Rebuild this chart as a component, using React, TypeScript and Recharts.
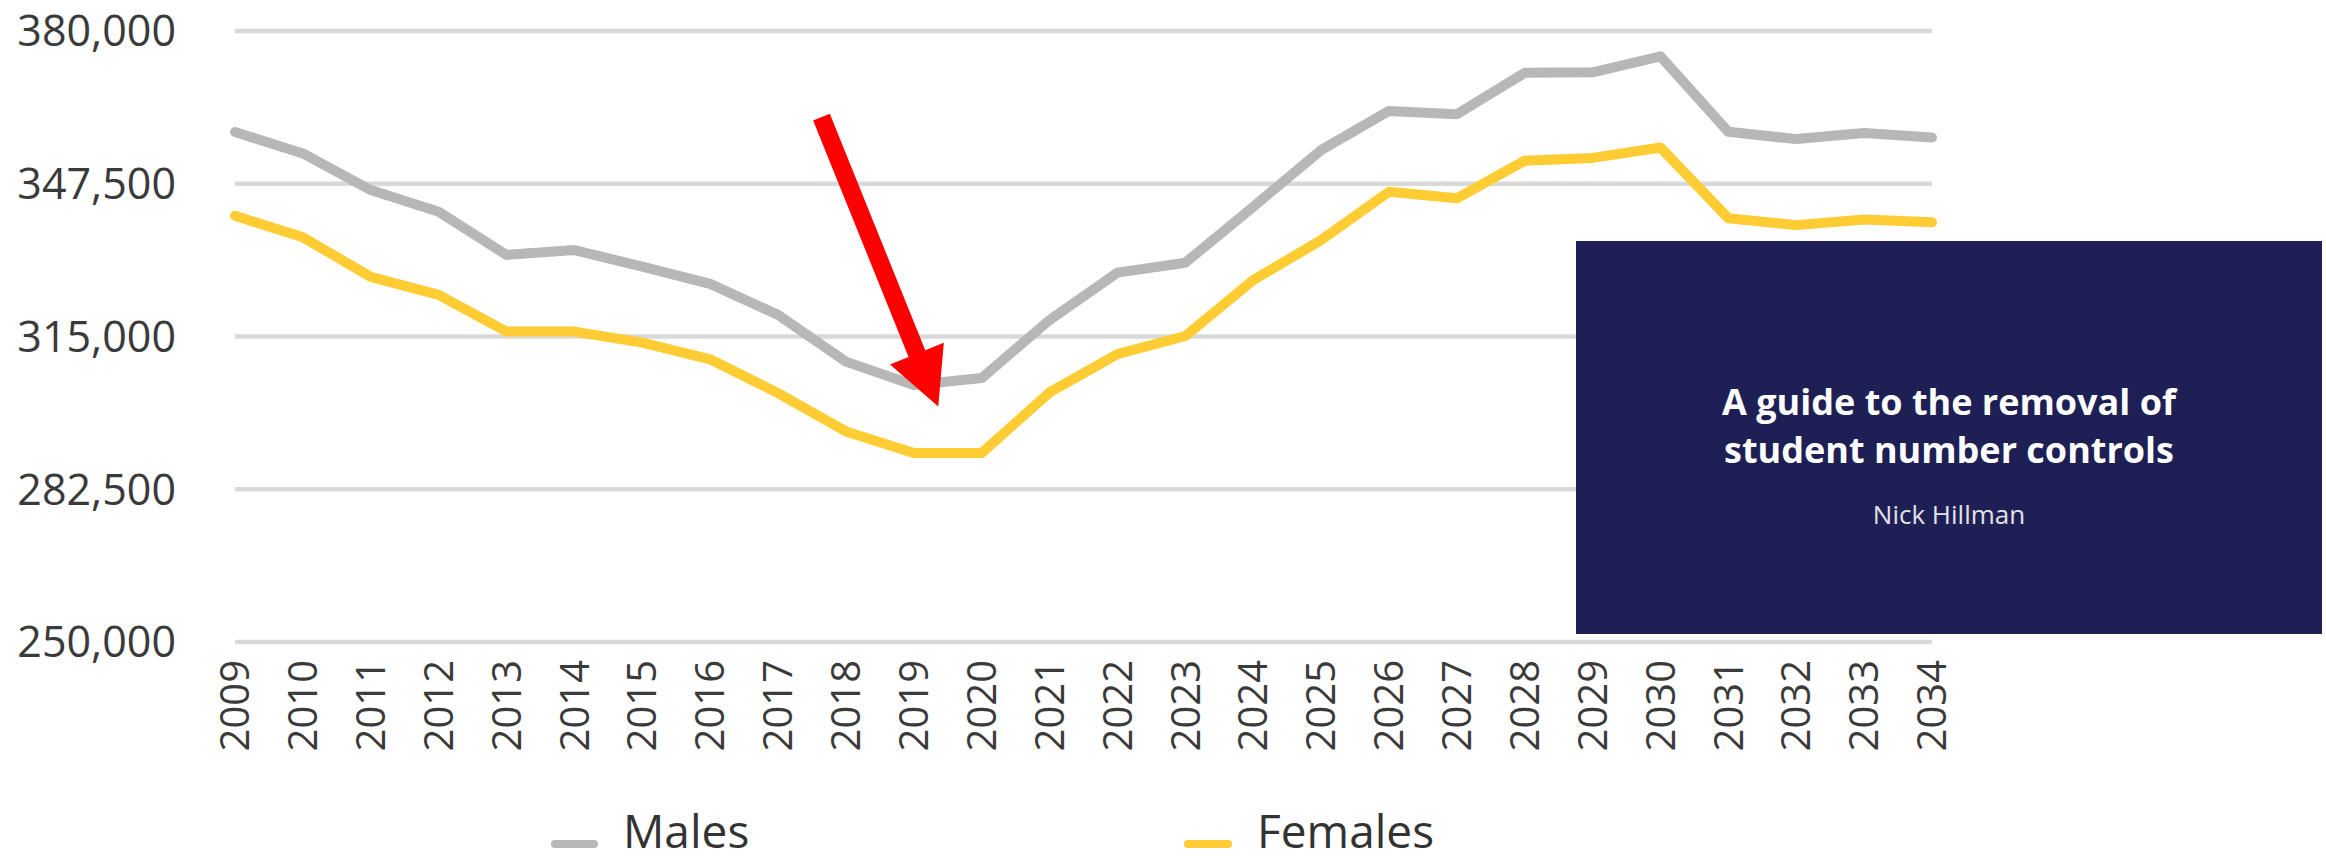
import React from 'react';
import { LineChart, Line, XAxis, YAxis, CartesianGrid, Legend, ReferenceLine } from 'recharts';

const years = [2009, 2010, 2011, 2012, 2013, 2014, 2015, 2016, 2017, 2018, 2019, 2020, 2021, 2022, 2023, 2024, 2025, 2026, 2027, 2028, 2029, 2030, 2031, 2032, 2033, 2034];
const males = [358500, 353950, 346150, 341550, 332350, 333400, 329850, 326200, 319600, 309650, 304700, 306150, 318500, 328600, 330700, 342600, 354650, 363000, 362300, 371100, 371200, 374600, 358550, 357000, 358300, 357350];
const females = [340700, 336100, 327700, 323850, 316050, 316050, 313700, 310150, 302950, 294800, 290200, 290200, 303100, 311250, 315100, 327000, 335500, 345800, 344400, 352400, 353000, 355200, 340150, 338700, 339900, 339300];
const yTicks = [250000, 282500, 315000, 347500, 380000];
const seriesNames = ['Males', 'Females'];
const seriesColors = ['#b7b7b7', '#ffcc33'];
const arrowTail = { x: 2017.64, y: 361700 };
const arrowTip = { x: 2019.36, y: 300100 };
const boxTitle = ['A guide to the removal of', 'student number controls'];
const boxAuthor = 'Nick Hillman';

const data = years.map((year, i) => ({ year, males: males[i], females: females[i] }));

const FONT = '"Open Sans", "Noto Sans", sans-serif';

const ArrowShape = (props: any) => {
  const { x1, y1, x2, y2 } = props;
  if ([x1, y1, x2, y2].some((v) => typeof v !== 'number' || isNaN(v))) return <g />;
  const dx = x2 - x1;
  const dy = y2 - y1;
  const L = Math.hypot(dx, dy);
  const ux = dx / L;
  const uy = dy / L;
  const nx = -uy;
  const ny = ux;
  const head = 57;
  const hw = 29;
  const sw = 9;
  const bx = x2 - ux * head;
  const by = y2 - uy * head;
  const pts = [
    [x1 + nx * sw, y1 + ny * sw],
    [bx + nx * sw, by + ny * sw],
    [bx + nx * hw, by + ny * hw],
    [x2, y2],
    [bx - nx * hw, by - ny * hw],
    [bx - nx * sw, by - ny * sw],
    [x1 - nx * sw, y1 - ny * sw],
  ];
  return <polygon points={pts.map((p) => p.join(',')).join(' ')} fill="#ff0000" />;
};

const XTick = (props: any) => {
  const { x, y, payload } = props;
  return (
    <g transform={`translate(${x},${y})`}>
      <text
        transform="rotate(-90)"
        x={-18}
        y={0}
        dy="0.355em"
        textAnchor="end"
        fill="#3a3a3a"
        fontSize={40}
        fontFamily={FONT}
      >
        {payload.value}
      </text>
    </g>
  );
};

const LegendContent = () => (
  <svg width={2326} height={70} style={{ display: 'block' }}>
    <line x1={555} y1={53} x2={594} y2={53} stroke={seriesColors[0]} strokeWidth={8} strokeLinecap="round" />
    <text x={623} y={57} fontSize={46} fontFamily={FONT} fill="#333333">{seriesNames[0]}</text>
    <line x1={1188} y1={53} x2={1228} y2={53} stroke={seriesColors[1]} strokeWidth={8} strokeLinecap="round" />
    <text x={1257} y={57} fontSize={46} fontFamily={FONT} fill="#333333">{seriesNames[1]}</text>
  </svg>
);

export default function App() {
  return (
    <div style={{ position: 'absolute', left: 0, top: 0, width: 2326, height: 861, background: '#ffffff', overflow: 'hidden' }}>
      <LineChart width={2326} height={861} data={data} margin={{ top: 31, right: 394, left: 0, bottom: 0 }}>
        <CartesianGrid vertical={false} stroke="#d9d9d9" strokeWidth={4.5} />
        <XAxis
          dataKey="year"
          type="number"
          domain={[2009, 2034]}
          ticks={years}
          interval={0}
          axisLine={false}
          tickLine={false}
          tickSize={0}
          tickMargin={0}
          height={149}
          tick={<XTick />}
        />
        <YAxis
          domain={[250000, 380000]}
          ticks={yTicks}
          axisLine={false}
          tickLine={false}
          tickSize={0}
          tickMargin={59}
          width={235}
          interval={0}
          tickFormatter={(v: number) => v.toLocaleString('en-US')}
          tick={{ fontSize: 43, fontFamily: FONT, fill: '#3a3a3a' }}
        />
        <Line type="linear" dataKey="males" name={seriesNames[0]} stroke={seriesColors[0]} strokeWidth={10} dot={false} activeDot={false} strokeLinecap="round" strokeLinejoin="round" isAnimationActive={false} />
        <Line type="linear" dataKey="females" name={seriesNames[1]} stroke={seriesColors[1]} strokeWidth={10} dot={false} activeDot={false} strokeLinecap="round" strokeLinejoin="round" isAnimationActive={false} />
        <ReferenceLine
          segment={[arrowTail, arrowTip]}
          ifOverflow="visible"
          shape={(p: any) => <ArrowShape {...p} />}
        />
        <Legend verticalAlign="bottom" content={() => <LegendContent />} wrapperStyle={{ left: 0, width: 2326, height: 70 }} />
      </LineChart>
      <div style={{ position: 'absolute', left: 1576, top: 241, width: 746, height: 393, background: '#1e2055' }}>
        <svg width={746} height={393} style={{ display: 'block' }}>
          <text x={373} y={174} textAnchor="middle" fontSize={36} fontWeight={700} fontFamily={FONT} fill="#ffffff">{boxTitle[0]}</text>
          <text x={373} y={222} textAnchor="middle" fontSize={36} fontWeight={700} fontFamily={FONT} fill="#ffffff">{boxTitle[1]}</text>
          <text x={373} y={283} textAnchor="middle" fontSize={26} fontFamily={FONT} fill="#e2e2e8">{boxAuthor}</text>
        </svg>
      </div>
    </div>
  );
}
